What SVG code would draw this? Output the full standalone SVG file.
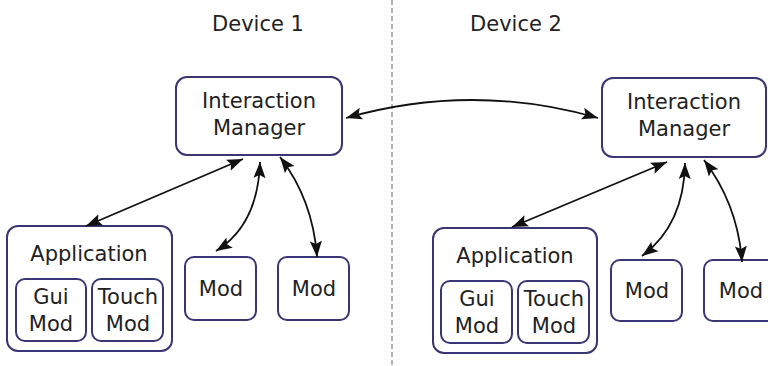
<svg xmlns="http://www.w3.org/2000/svg" width="768" height="366" viewBox="0 0 768 366">
<style>
.box{fill:#fff;stroke:#3a3574;stroke-width:2}
.t{font-family:"DejaVu Sans",Verdana,sans-serif;font-size:21px;fill:#222;text-anchor:middle}
.c{fill:none;stroke:#111;stroke-width:1.8;marker-start:url(#ah);marker-end:url(#ah)}
</style>
<defs>
<marker id="ah" markerUnits="userSpaceOnUse" markerWidth="18" markerHeight="14" refX="16" refY="7" orient="auto-start-reverse">
<path d="M0,1 L16,7 L0,13 L3,7 z" fill="#111"/>
</marker>
</defs>
<rect width="768" height="366" fill="#fff"/>
<line x1="392" y1="0" x2="392" y2="366" stroke="#999" stroke-width="1.5" stroke-dasharray="5,3"/>
<text class="t" x="258" y="31">Device 1</text>
<text class="t" x="516" y="31">Device 2</text>
<g id="im1"><rect class="box" x="176" y="77" width="166" height="78" rx="11"/><text class="t" x="259" y="108">Interaction</text><text class="t" x="259" y="135">Manager</text></g>
<g id="im2"><rect class="box" x="602" y="78" width="164" height="79" rx="11"/><text class="t" x="684" y="109">Interaction</text><text class="t" x="684" y="136">Manager</text></g>
<g id="app1"><rect class="box" x="7" y="226" width="165" height="125" rx="11"/><text class="t" x="89" y="261">Application</text></g>
<g id="gui1"><rect class="box" x="16" y="279" width="70" height="62" rx="9"/><text class="t" x="51" y="304">Gui</text><text class="t" x="51" y="331">Mod</text></g>
<g id="touch1"><rect class="box" x="92" y="279" width="71" height="62" rx="9"/><text class="t" x="128" y="304">Touch</text><text class="t" x="128" y="331">Mod</text></g>
<g id="mod1"><rect class="box" x="185" y="257" width="71" height="63" rx="9"/><text class="t" x="221" y="296">Mod</text></g>
<g id="mod2"><rect class="box" x="278" y="257" width="71" height="63" rx="9"/><text class="t" x="314" y="296">Mod</text></g>
<g id="app2"><rect class="box" x="433" y="228" width="164" height="125" rx="11"/><text class="t" x="515" y="263">Application</text></g>
<g id="gui2"><rect class="box" x="441" y="281" width="71" height="62" rx="9"/><text class="t" x="477" y="306">Gui</text><text class="t" x="477" y="333">Mod</text></g>
<g id="touch2"><rect class="box" x="518" y="281" width="71" height="62" rx="9"/><text class="t" x="554" y="306">Touch</text><text class="t" x="554" y="333">Mod</text></g>
<g id="mod3"><rect class="box" x="611" y="260" width="71" height="61" rx="9"/><text class="t" x="647" y="298">Mod</text></g>
<g id="mod4"><rect class="box" x="704" y="260" width="72" height="61" rx="9"/><text class="t" x="741" y="298">Mod</text></g>
<g id="connectors">
<path class="c" d="M243,159 L86,226"/>
<path class="c" d="M260,162 Q258,225 216,251"/>
<path class="c" d="M280,157 Q313,200 317,257"/>
<path class="c" d="M346,118 Q472,82 598,118"/>
<path class="c" d="M667,162 L512,227"/>
<path class="c" d="M685,163 Q684,225 642,256"/>
<path class="c" d="M704,160 Q738,205 742,262"/>
</g>
</svg>
